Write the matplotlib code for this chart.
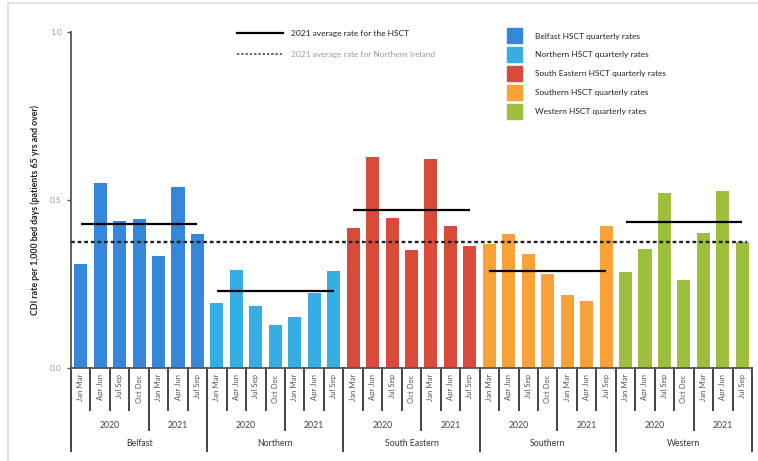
import matplotlib
matplotlib.use('Agg')
import matplotlib.pyplot as plt
import matplotlib.lines as mlines
import matplotlib.patches as mpatches
import numpy as np

plt.rcParams['font.family'] = ['Lato', 'DejaVu Sans']

# ---------------------------------------------------------------
# data
# ---------------------------------------------------------------
trusts   = ['Belfast', 'Northern', 'South Eastern', 'Southern', 'Western']
quarters = ['Jan Mar', 'Apr Jun', 'Jul Sep', 'Oct Dec', 'Jan Mar', 'Apr Jun', 'Jul Sep']
years    = ['2020', '2020', '2020', '2020', '2021', '2021', '2021']

belfast       = [0.310, 0.552, 0.437, 0.443, 0.334, 0.540, 0.399]
northern      = [0.192, 0.292, 0.185, 0.127, 0.151, 0.224, 0.290]
south_eastern = [0.417, 0.627, 0.446, 0.350, 0.622, 0.423, 0.364]
southern      = [0.369, 0.398, 0.339, 0.280, 0.216, 0.199, 0.424]
western       = [0.287, 0.355, 0.520, 0.262, 0.401, 0.526, 0.375]

hsct_avg_2021 = [0.429, 0.230, 0.469, 0.290, 0.435]
ni_avg_2021   = 0.375

colors = ['#3587DA', '#35AEE6', '#DA4A3B', '#F7A136', '#9DBF3B']

series = [belfast, northern, south_eastern, southern, western]

# ---------------------------------------------------------------
# figure
# ---------------------------------------------------------------
W, H = 758, 461
fig = plt.figure(figsize=(W / 100, H / 100), dpi=100)
ax = fig.add_axes([71 / W, 1 - 368 / H, 681 / W, 336 / H])

nq = len(quarters)
for t, (vals, col) in enumerate(zip(series, colors)):
    x = np.arange(nq) + t * nq
    ax.bar(x, vals, width=0.67, color=col, zorder=2)
    ax.hlines(hsct_avg_2021[t], x[0], x[-1], color='black', lw=1.6, zorder=3)

ax.axhline(ni_avg_2021, xmin=0.0, xmax=0.993, color='#222222', lw=1.7,
           ls=(0, (1.6, 1.2)), zorder=3)

n = nq * len(trusts)
ax.set_xlim(-0.5, n - 0.5)
ax.set_ylim(0, 1.0)
ax.set_yticks([0, 0.5, 1.0])
ax.set_yticklabels(['0.0', '0.5', '1.0'])
ax.tick_params(axis='y', labelsize=6, colors='#555555', labelcolor='#999999',
               length=3, width=1)
ax.set_xticks([])
for s in ('top', 'right'):
    ax.spines[s].set_visible(False)
ax.spines['left'].set_color('#555555')
ax.spines['bottom'].set_color('#555555')
ax.spines['left'].set_linewidth(1.3)
ax.spines['bottom'].set_linewidth(1.3)

# multi-level category axis
tr = ax.get_xaxis_transform()
q_bot, y_bot, t_bot = -0.125, -0.185, -0.247
for i in range(n + 1):
    xb = i - 0.5
    if i % nq == 0:
        yb = t_bot
    elif i % nq == 4:
        yb = y_bot
    else:
        yb = q_bot
    ax.plot([xb, xb], [0, yb], transform=tr, color='#444444', lw=1.4,
            clip_on=False)

for i in range(n):
    ax.text(i, -0.018, quarters[i % nq], transform=tr, rotation=90,
            ha='center', va='top', fontsize=5.6, color='#555555')

for t, name in enumerate(trusts):
    base = t * nq
    ax.text(base + 1.5, -0.17, '2020', transform=tr, ha='center',
            va='center', fontsize=6.3, color='#444444')
    ax.text(base + 5.0, -0.17, '2021', transform=tr, ha='center',
            va='center', fontsize=6.3, color='#444444')
    ax.text(base + 3.0, -0.226, name, transform=tr, ha='center',
            va='center', fontsize=6.3, color='#333333')

# y label
fig.text(35 / W, 1 - 210 / H,
         'CDI rate per 1,000 bed days (patients 65 yrs and over)',
         rotation=90, ha='center', va='center', fontsize=6.3,
         fontweight='bold', color='#222222')

# legend: average lines
fig.add_artist(mlines.Line2D([237 / W, 283 / W], [1 - 33 / H] * 2,
                             color='black', lw=1.6))
fig.text(291 / W, 1 - 33 / H, '2021 average rate for the HSCT',
         ha='left', va='center', fontsize=6, color='#222222')
fig.add_artist(mlines.Line2D([237 / W, 283 / W], [1 - 54 / H] * 2,
                             color='#666666', lw=1.4, ls=(0, (1.2, 1.0))))
fig.text(291 / W, 1 - 54 / H, '2021 average rate for Northern Ireland',
         ha='left', va='center', fontsize=6, color='#999999')

# legend: trust colours
labels = ['Belfast HSCT quarterly rates', 'Northern HSCT quarterly rates',
          'South Eastern HSCT quarterly rates', 'Southern HSCT quarterly rates',
          'Western HSCT quarterly rates']
for k, (lab, col) in enumerate(zip(labels, colors)):
    yc = 36 + k * 18.8
    fig.add_artist(mpatches.Rectangle((507 / W, 1 - (yc + 7.5) / H),
                                      15 / W, 15 / H, color=col,
                                      transform=fig.transFigure))
    fig.text(535 / W, 1 - yc / H, lab, ha='left', va='center',
             fontsize=6, color='#222222')

# faint screenshot frame
fig.add_artist(mlines.Line2D([8 / W, 8 / W], [0, 1 - 3 / H],
                             color='#d8d8e8', lw=1.2))
fig.add_artist(mlines.Line2D([8 / W, 1], [1 - 3 / H] * 2,
                             color='#dddddd', lw=1.2))

fig.savefig('out.png', dpi=100)
